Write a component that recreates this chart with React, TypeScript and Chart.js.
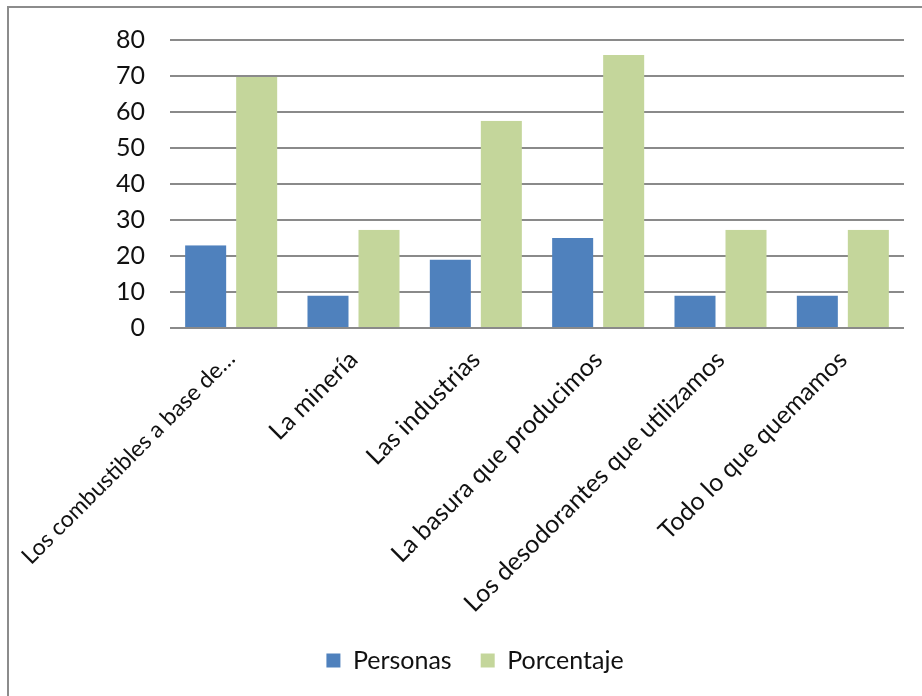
import React, { useEffect, useRef } from "react";
import { Chart, registerables } from "chart.js";

Chart.register(...registerables);

// Survey answers: what pollutes the air we breathe
const categories = [
  "Los combustibles a base de…",
  "La minería",
  "Las industrias",
  "La basura que producimos",
  "Los desodorantes que utilizamos",
  "Todo lo que quemamos",
];
const personas = [23, 9, 19, 25, 9, 9];
const porcentaje = [69.7, 27.3, 57.6, 75.8, 27.3, 27.3];
const yTicks = [0, 10, 20, 30, 40, 50, 60, 70, 80];

const FONT = "Lato, 'Open Sans', sans-serif";
const FONT_SIZE = 25;
const BLUE = "#4F81BD";
const GREEN = "#C4D69B";
const GRID = "#8a8a8a";

export default function App() {
  const canvasRef = useRef<HTMLCanvasElement | null>(null);

  useEffect(() => {
    const canvas = canvasRef.current;
    if (!canvas) return;
    const chart = new Chart(canvas, {
      type: "bar",
      data: {
        labels: categories,
        datasets: [
          {
            label: "Personas",
            data: personas,
            backgroundColor: BLUE,
            borderColor: "rgba(0,0,0,0)",
            borderWidth: { left: 5, right: 5, top: 0, bottom: 0 },
            borderSkipped: false,
            categoryPercentage: 0.834,
            barPercentage: 1,
          },
          {
            label: "Porcentaje",
            data: porcentaje,
            backgroundColor: GREEN,
            borderColor: "rgba(0,0,0,0)",
            borderWidth: { left: 5, right: 5, top: 0, bottom: 0 },
            borderSkipped: false,
            categoryPercentage: 0.834,
            barPercentage: 1,
          },
        ],
      },
      options: {
        animation: false,
        responsive: false,
        layout: { padding: { left: 46, right: 18, top: 37, bottom: 13 } },
        scales: {
          x: {
            offset: true,
            grid: { display: false, drawTicks: false },
            border: { display: false },
            ticks: {
              autoSkip: false,
              minRotation: 45,
              maxRotation: 45,
              padding: 17,
              color: "#111",
              // the truncated first label is set a touch smaller
              font: (ctx: any) => ({ family: FONT, size: ctx.index === 0 ? 23 : FONT_SIZE }),
            },
            afterFit: (axis) => {
              // the slanted labels may spill into the empty left margin
              axis.paddingLeft = 0;
              axis.paddingRight = 0;
              axis.height = 291;
            },
          },
          y: {
            min: 0,
            max: 80,
            afterBuildTicks: (axis) => {
              axis.ticks = yTicks.map((v) => ({ value: v }));
            },
            afterFit: (axis) => {
              axis.width = 124;
            },
            grid: { color: GRID, lineWidth: 2, drawTicks: false },
            border: { display: false },
            ticks: {
              padding: 25,
              color: "#111",
              font: { family: FONT, size: FONT_SIZE },
            },
          },
        },
        plugins: {
          legend: {
            position: "bottom",
            labels: {
              boxWidth: 14,
              boxHeight: 14,
              padding: 29,
              color: "#111",
              font: { family: FONT, size: FONT_SIZE },
            },
          },
          tooltip: { enabled: false },
        },
      },
    });
    return () => chart.destroy();
  }, []);

  return (
    <div style={{ position: "absolute", left: 0, top: 0, width: 922, height: 696, overflow: "hidden", background: "#fff" }}>
      <div
        style={{
          position: "absolute",
          left: 7,
          top: 6,
          width: 1000,
          height: 800,
          borderTop: "2px solid #8c8c8c",
          borderLeft: "2px solid #8c8c8c",
        }}
      />
      <canvas ref={canvasRef} width={922} height={696} style={{ position: "absolute", left: 0, top: 0, display: "block" }} />
    </div>
  );
}
